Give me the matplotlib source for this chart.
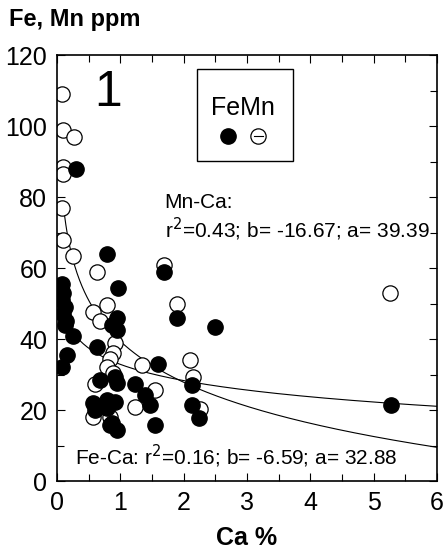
import numpy as np
import matplotlib.pyplot as plt
from matplotlib.patches import Rectangle

plt.rcParams['font.family'] = ['Liberation Sans', 'DejaVu Sans']

# Fe (filled) ppm vs Ca %
fe_ca = [0.30, 0.08, 0.10, 0.08, 0.12, 0.10, 0.14, 0.12, 0.25, 0.16, 0.08,
         0.79, 0.97, 1.69, 0.95, 0.95, 0.87, 1.90, 2.49, 0.63, 1.60, 2.13,
         1.23, 0.68, 0.92, 0.95, 0.57, 0.60, 0.79, 0.92, 0.84, 0.95, 0.87,
         0.79, 1.39, 1.47, 1.55, 2.13, 2.24, 5.27]
fe_val = [88, 55.5, 53, 51, 49, 47, 45, 44, 41, 35.5, 32,
          64, 54.5, 59, 46, 42.5, 44, 46, 43.5, 37.7, 33, 27,
          27.3, 28.5, 29.3, 27.6, 22, 20, 22.8, 22.3, 15.8, 14.4, 16.3,
          20.6, 24.2, 21.4, 15.8, 21.4, 17.7, 21.4]

# Mn (open) ppm vs Ca %
mn_ca = [0.08, 0.10, 0.27, 0.10, 0.10, 0.08, 0.10, 0.25, 0.63, 1.69,
         0.57, 0.79, 0.68, 1.90, 0.92, 0.88, 0.84, 0.79, 0.88, 1.35,
         2.10, 2.15, 1.54, 0.60, 0.57, 0.84, 1.23, 2.26, 5.26]
mn_val = [109, 99, 97, 88.5, 86.5, 77, 68, 63.5, 59, 61,
          47.6, 49.5, 45, 50, 39, 36, 34.5, 32, 30.5, 32.7,
          34, 29.2, 25.6, 27.3, 18, 18, 20.8, 20.3, 53]

# log fits y = a + b*ln(x)
fe_a, fe_b = 32.88, -6.59
mn_a, mn_b = 39.39, -16.67

fig = plt.figure(figsize=(4.47, 5.53), dpi=100)
ax = fig.add_axes([0.1275, 0.13, 0.85, 0.7705])

xx = np.linspace(0.1, 6, 300)
ax.plot(xx, fe_a + fe_b*np.log(xx), color='black', lw=0.8, zorder=1)
ax.plot(xx, mn_a + mn_b*np.log(xx), color='black', lw=0.8, zorder=1)

ax.plot(mn_ca, mn_val, 'o', ms=11, mfc='white', mec='black', mew=0.9, zorder=2)
ax.plot(fe_ca, fe_val, 'o', ms=11, mfc='black', mec='black', zorder=3)

ax.set_xlim(0, 6)
ax.set_ylim(0, 120)
ax.set_xticks(range(0, 7))
ax.set_yticks(range(0, 121, 20))
ax.set_xticks(np.arange(0, 6.01, 0.5), minor=True)
ax.set_yticks(range(0, 121, 10), minor=True)
ax.tick_params(which='both', direction='in', top=True, right=True,
               labelsize=18, width=0.8)
ax.tick_params(which='major', length=6, pad=7)
ax.tick_params(which='minor', length=5)
for s in ax.spines.values():
    s.set_linewidth(1.2)

ax.set_xlabel('Ca %', fontsize=18, fontweight='bold', labelpad=8)
fig.text(0.02, 0.965, 'Fe, Mn ppm', fontsize=17, fontweight='bold', va='center')

ax.text(0.135, 0.965, '1', transform=ax.transAxes, fontsize=36, va='top', ha='center')

# legend box
ax.add_patch(Rectangle((0.368, 0.751), 0.253, 0.216, transform=ax.transAxes,
                       fill=False, lw=1.0, zorder=4))
ax.text(0.49, 0.875, 'FeMn', transform=ax.transAxes, fontsize=18,
        ha='center', va='center', zorder=5)
ax.plot([0.449], [0.81], 'o', ms=11, mfc='black', mec='black',
        transform=ax.transAxes, zorder=5)
ax.plot([0.518, 0.542], [0.81, 0.81], '-', color='black', lw=0.8,
        transform=ax.transAxes, zorder=5)
ax.plot([0.53], [0.81], 'o', ms=11, mfc='none', mec='black', mew=0.9,
        transform=ax.transAxes, zorder=5)

ax.text(1.7, 77, 'Mn-Ca:', fontsize=15, ha='left', va='baseline')
ax.text(1.7, 68.5, 'r$^2$=0.43; b= -16.67; a= 39.39', fontsize=15,
        ha='left', va='baseline')
ax.text(0.28, 4.5, 'Fe-Ca: r$^2$=0.16; b= -6.59; a= 32.88', fontsize=15,
        ha='left', va='baseline')

fig.savefig('out.png', dpi=100)
